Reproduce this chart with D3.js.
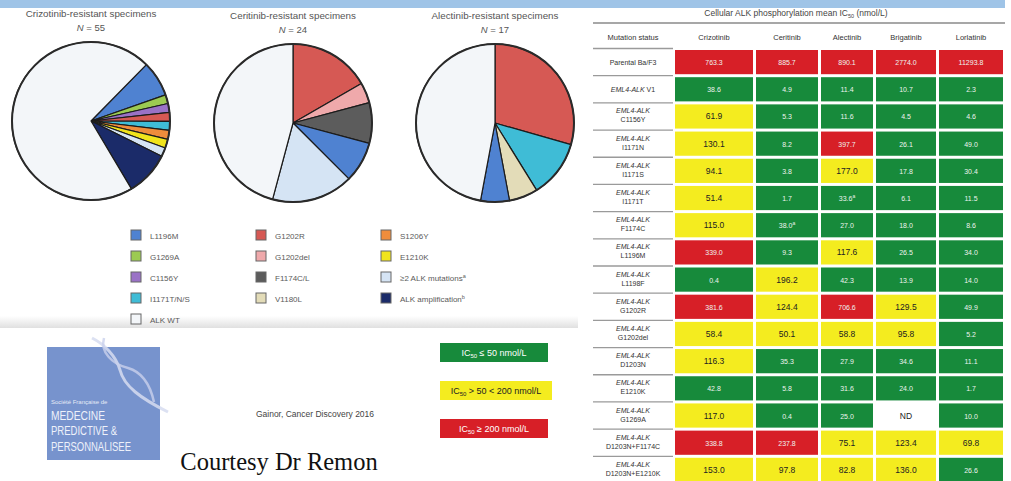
<!DOCTYPE html>
<html>
<head>
<meta charset="utf-8">
<script src="https://cdn.jsdelivr.net/npm/d3@7"></script>
<style>
  body { margin: 0; background: #fff; }
  svg { display: block; font-family: "Liberation Sans", Arial, sans-serif; }
</style>
</head>
<body>
<div id="chart"></div>
<script>
// ---- pie charts: specimens per resistance mechanism ----
const pieDrugs = ["Crizotinib", "Ceritinib", "Alectinib"];
const pieTotals = [55, 24, 17];

const crizotinibMechanisms = ["L1196M", "G1269A", "C1156Y", "G1202R", "I1171T/N/S", "S1206Y", "E1210K", "≥2 ALK mutations", "ALK amplification", "ALK WT"];
const crizotinibCounts = [4, 1, 1, 1, 1, 1, 1, 1, 5, 39];
const ceritinibMechanisms = ["G1202R", "G1202del", "F1174C/L", "L1196M", "≥2 ALK mutations", "ALK WT"];
const ceritinibCounts = [4, 1, 2, 2, 4, 11];
const alectinibMechanisms = ["G1202R", "I1171T/N/S", "V1180L", "L1196M", "ALK WT"];
const alectinibCounts = [5, 2, 1, 1, 8];

// legend, column by column
const legendColumns = [
    ["L1196M", "G1269A", "C1156Y", "I1171T/N/S", "ALK WT"],
    ["G1202R", "G1202del", "F1174C/L", "V1180L"],
    ["S1206Y", "E1210K", "≥2 ALK mutations", "ALK amplification"]
];
const legendNotes = { "≥2 ALK mutations": "a", "ALK amplification": "b" };

// ---- IC50 table (nmol/L), null = not determined ----
const tableTitle = "Cellular ALK phosphorylation mean IC";
const mutationRows = ["Parental Ba/F3", "V1", "C1156Y", "I1171N", "I1171S", "I1171T", "F1174C", "L1196M",
    "L1198F", "G1202R", "G1202del", "D1203N", "E1210K", "G1269A", "D1203N+F1174C", "D1203N+E1210K"];
const tableDrugs = ["Crizotinib", "Ceritinib", "Alectinib", "Brigatinib", "Lorlatinib"];
const crizotinibIC50 = [763.3, 38.6, 61.9, 130.1, 94.1, 51.4, 115.0, 339.0, 0.4, 381.6, 58.4, 116.3, 42.8, 117.0, 338.8, 153.0];
const ceritinibIC50 = [885.7, 4.9, 5.3, 8.2, 3.8, 1.7, 38.0, 9.3, 196.2, 124.4, 50.1, 35.3, 5.8, 0.4, 237.8, 97.8];
const alectinibIC50 = [890.1, 11.4, 11.6, 397.7, 177.0, 33.6, 27.0, 117.6, 42.3, 706.6, 58.8, 27.9, 31.6, 25.0, 75.1, 82.8];
const brigatinibIC50 = [2774.0, 10.7, 4.5, 26.1, 17.8, 6.1, 18.0, 26.5, 13.9, 129.5, 95.8, 34.6, 24.0, null, 123.4, 136.0];
const lorlatinibIC50 = [11293.8, 2.3, 4.6, 49.0, 30.4, 11.5, 8.6, 34.0, 14.0, 49.9, 5.2, 11.1, 1.7, 10.0, 69.8, 26.6];
const cellNotes = { "Alectinib|I1171T": "a", "Ceritinib|F1174C": "a" };

const ic50Cuts = [50, 200];
const ic50Labels = [" ≤ 50 nmol/L", " > 50 < 200 nmol/L", " ≥ 200 nmol/L"];

// ---------------------------------------------------------------
const W = 1011, H = 481;
const svg = d3.select("#chart").append("svg").attr("width", W).attr("height", H);

const color = d3.scaleOrdinal()
    .domain(["L1196M", "G1269A", "C1156Y", "I1171T/N/S", "ALK WT", "G1202R", "G1202del", "F1174C/L", "V1180L",
        "S1206Y", "E1210K", "≥2 ALK mutations", "ALK amplification"])
    .range(["#4f82d1", "#9ccb52", "#9a72c6", "#3fbcd6", "#f3f6f9", "#d65954", "#efa9ab", "#5c5c5c", "#e3dcb8",
        "#ef8d3c", "#f1e41c", "#d5e4f4", "#1b2b69"]);

const ic50Color = d3.scaleThreshold().domain(ic50Cuts).range(["#178a3b", "#f4ec1f", "#d71f27"]);

// gradient for the panel shade
const defs = svg.append("defs");
const grad = defs.append("linearGradient").attr("id", "shade").attr("x1", 0).attr("x2", 0).attr("y1", 0).attr("y2", 1);
grad.append("stop").attr("offset", "0%").attr("stop-color", "#ffffff");
grad.append("stop").attr("offset", "100%").attr("stop-color", "#e0e0e0");

// top band
svg.append("rect").attr("x", 0).attr("y", 0).attr("width", 1005).attr("height", 8).attr("fill", "#9fc4e7");
svg.append("rect").attr("x", 0).attr("y", 316).attr("width", 578).attr("height", 12).attr("fill", "url(#shade)");

// ---- pies ----
const pieSets = [
    { names: crizotinibMechanisms, counts: crizotinibCounts },
    { names: ceritinibMechanisms, counts: ceritinibCounts },
    { names: alectinibMechanisms, counts: alectinibCounts }
];
const pieCenters = [[91, 121], [293, 123], [495, 123]];
const pieStart = [44.5, 0, 0];
const R = 79;
const arc = d3.arc().innerRadius(0).outerRadius(R);

pieSets.forEach((set, i) => {
    const g = svg.append("g").attr("transform", `translate(${pieCenters[i][0]},${pieCenters[i][1]})`);
    const a0 = pieStart[i] * Math.PI / 180;
    const pie = d3.pie().sort(null).value(d => d.count).startAngle(a0).endAngle(a0 + 2 * Math.PI);
    const data = set.names.map((n, k) => ({ name: n, count: set.counts[k] }));

    g.selectAll("path")
        .data(pie(data))
        .join("path")
        .attr("d", arc)
        .attr("fill", d => color(d.data.name))
        .attr("stroke", "#1c1c1c")
        .attr("stroke-width", 1.2)
        .attr("stroke-linejoin", "round");

    g.append("circle").attr("r", R).attr("fill", "none").attr("stroke", "#2a2a2a").attr("stroke-width", 2);

    g.append("text")
        .attr("y", -R - 25)
        .attr("text-anchor", "middle")
        .attr("font-size", 9.8)
        .attr("fill", "#555")
        .text(`${pieDrugs[i]}-resistant specimens`);

    const nt = g.append("text")
        .attr("y", -R - 11)
        .attr("text-anchor", "middle")
        .attr("font-size", 9.5)
        .attr("fill", "#555");
    nt.append("tspan").attr("font-style", "italic").text("N");
    nt.append("tspan").text(` = ${pieTotals[i]}`);
});

// ---- mechanism legend ----
const legendX = [131, 256, 381];
const legendY = d3.scaleLinear().domain([0, 1]).range([230, 251]);

legendColumns.forEach((col, c) => {
    const items = svg.append("g").selectAll("g")
        .data(col)
        .join("g")
        .attr("transform", (d, k) => `translate(${legendX[c]},${legendY(k)})`);

    items.append("rect")
        .attr("width", 10).attr("height", 10)
        .attr("fill", d => color(d))
        .attr("stroke", "#666").attr("stroke-width", 1);

    const t = items.append("text")
        .attr("x", 19).attr("y", 8.5)
        .attr("font-size", 8)
        .attr("fill", "#5a5a5a");
    t.append("tspan").text(d => d);
    t.append("tspan")
        .attr("font-size", 5.5)
        .attr("dy", -3)
        .text(d => legendNotes[d] || "");
});

// ---- bottom-left panel: logo, source, threshold keys ----
const logo = svg.append("g");
logo.append("rect").attr("x", 47).attr("y", 347).attr("width", 113).attr("height", 113).attr("fill", "#7793cd");
logo.append("path")
    .attr("d", "M92,338 C104,344 116,356 120,370 C124,386 140,398 168,412")
    .attr("fill", "none").attr("stroke", "#d6dcf0").attr("stroke-width", 3).attr("opacity", 0.85);
logo.append("path")
    .attr("d", "M104,338 C100,352 112,364 128,368 C142,372 150,384 154,402")
    .attr("fill", "none").attr("stroke", "#c9d1ec").attr("stroke-width", 2.5).attr("opacity", 0.8);
logo.append("text").attr("x", 51).attr("y", 404).attr("font-size", 6).attr("fill", "#e6eaf6")
    .text("Société Française de");
[["MEDECINE", 420, 54], ["PREDICTIVE &", 435, 66], ["PERSONNALISEE", 451, 80]].forEach(([s, y, len]) => {
    logo.append("text")
        .attr("x", 51).attr("y", y)
        .attr("font-size", 13)
        .attr("fill", "#eef1fa")
        .attr("textLength", len)
        .attr("lengthAdjust", "spacingAndGlyphs")
        .text(s);
});

svg.append("text")
    .attr("x", 315).attr("y", 417)
    .attr("text-anchor", "middle")
    .attr("font-size", 8.5)
    .attr("fill", "#444")
    .text("Gainor, Cancer Discovery 2016");

svg.append("text")
    .attr("x", 279).attr("y", 470)
    .attr("text-anchor", "middle")
    .attr("font-family", "'Liberation Serif', 'Times New Roman', serif")
    .attr("font-size", 24.5)
    .attr("fill", "#111")
    .text("Courtesy Dr Remon");

const keyY = d3.scaleLinear().domain([0, 1]).range([343, 381]);
const keys = svg.append("g").selectAll("g")
    .data(ic50Labels)
    .join("g")
    .attr("transform", (d, k) => `translate(440,${keyY(k)})`);
keys.append("rect")
    .attr("width", (d, k) => k === 1 ? 112 : 108)
    .attr("height", 19)
    .attr("fill", (d, k) => ic50Color.range()[k]);
const keyText = keys.append("text")
    .attr("x", (d, k) => k === 1 ? 56 : 54)
    .attr("y", 12.5)
    .attr("text-anchor", "middle")
    .attr("font-size", 9)
    .attr("fill", (d, k) => k === 1 ? "#222" : "#fff");
keyText.append("tspan").text("IC");
keyText.append("tspan").attr("font-size", 6).attr("dy", 2.5).text("50");
keyText.append("tspan").attr("dy", -2.5).text(d => d);

// ---- IC50 table ----
const colWidths = [78, 62, 52, 60, 64];
const colGap = 3;
const colStarts = colWidths.map((w, k) => 675 + d3.sum(colWidths.slice(0, k)) + k * colGap);
const colX = d3.scaleOrdinal().domain(tableDrugs).range(colStarts);
const colW = d3.scaleOrdinal().domain(tableDrugs).range(colWidths);
const rowY = d3.scaleBand().domain(mutationRows).range([50, 482]).paddingInner(0.11);

const ic50ByDrug = [crizotinibIC50, ceritinibIC50, alectinibIC50, brigatinibIC50, lorlatinibIC50];
const cells = [];
tableDrugs.forEach((drug, c) => {
    mutationRows.forEach((row, r) => {
        cells.push({ drug, row, value: ic50ByDrug[c][r], note: cellNotes[`${drug}|${row}`] || "" });
    });
});

const table = svg.append("g");

// title and header rule
const tt = table.append("text")
    .attr("x", 796).attr("y", 16)
    .attr("text-anchor", "middle")
    .attr("font-size", 8.5)
    .attr("fill", "#444");
tt.append("tspan").text(tableTitle);
tt.append("tspan").attr("font-size", 5.5).attr("dy", 2).text("50");
tt.append("tspan").attr("dy", -2).text(" (nmol/L)");

table.append("line")
    .attr("x1", 593).attr("x2", 1005).attr("y1", 23).attr("y2", 23)
    .attr("stroke", "#8a8a8a").attr("stroke-width", 1.5);

table.append("text")
    .attr("x", 633).attr("y", 40)
    .attr("text-anchor", "middle")
    .attr("font-size", 7.5)
    .attr("fill", "#333")
    .text("Mutation status");

table.selectAll(".head")
    .data(tableDrugs)
    .join("text")
    .attr("class", "head")
    .attr("x", d => colX(d) + colW(d) / 2)
    .attr("y", 40)
    .attr("text-anchor", "middle")
    .attr("font-size", 7.5)
    .attr("fill", "#333")
    .text(d => d);

// row separators in the label column
table.selectAll(".sep")
    .data(mutationRows)
    .join("line")
    .attr("class", "sep")
    .attr("x1", 593).attr("x2", 673)
    .attr("y1", d => rowY(d) - 1.5).attr("y2", d => rowY(d) - 1.5)
    .attr("stroke", "#9a9a9a").attr("stroke-width", 1.3);

// row labels
const labels = table.selectAll(".rowlab")
    .data(mutationRows)
    .join("text")
    .attr("class", "rowlab")
    .attr("x", 633)
    .attr("text-anchor", "middle")
    .attr("font-size", 7)
    .attr("fill", "#333");

labels.each(function (d, i) {
    const t = d3.select(this);
    const cy = rowY(d) + rowY.bandwidth() / 2;
    if (i === 0) {
        t.attr("y", cy + 2.5).text(d);
    } else if (i === 1) {
        t.attr("y", cy + 2.5);
        t.append("tspan").attr("font-style", "italic").text("EML4-ALK");
        t.append("tspan").text(" " + d);
    } else {
        t.attr("y", cy - 3);
        t.append("tspan").attr("font-style", "italic").text("EML4-ALK");
        t.append("tspan").attr("x", 633).attr("dy", 9).text(d);
    }
});

// value cells
const fmt = d3.format(".1f");
table.selectAll(".cell")
    .data(cells)
    .join("rect")
    .attr("class", "cell")
    .attr("x", d => colX(d.drug))
    .attr("y", d => rowY(d.row))
    .attr("width", d => colW(d.drug))
    .attr("height", rowY.bandwidth())
    .attr("fill", d => d.value === null ? "#ffffff" : ic50Color(d.value));

const vt = table.selectAll(".val")
    .data(cells)
    .join("text")
    .attr("class", "val")
    .attr("x", d => colX(d.drug) + colW(d.drug) / 2)
    .attr("y", d => rowY(d.row) + rowY.bandwidth() / 2 + 3)
    .attr("text-anchor", "middle")
    .attr("font-size", d => (d.value === null || (d.value >= 50 && d.value < 200)) ? 8.5 : 7)
    .attr("fill", d => (d.value === null || (d.value >= 50 && d.value < 200)) ? "#222" : "#eef3ee");
vt.append("tspan").text(d => d.value === null ? "ND" : fmt(d.value));
vt.append("tspan").attr("font-size", 5).attr("dy", -3).text(d => d.note);
</script>
</body>
</html>
